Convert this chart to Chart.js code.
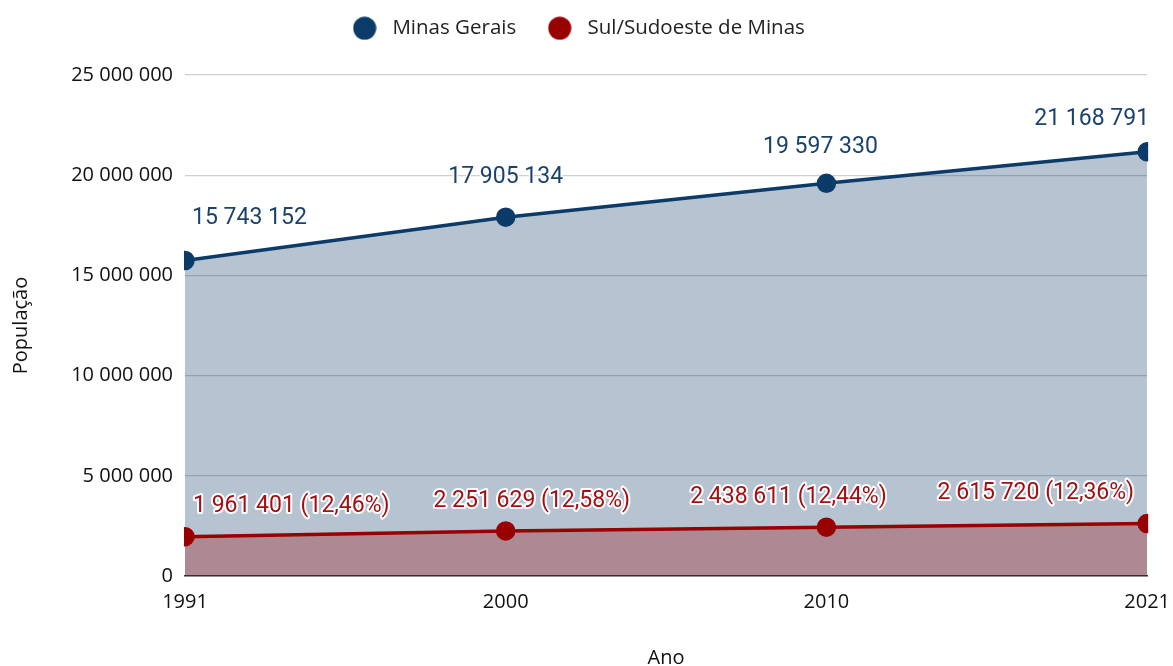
<!DOCTYPE html>
<html>
<head>
<meta charset="utf-8">
<script src="https://cdn.jsdelivr.net/npm/chart.js@4.4.1/dist/chart.umd.min.js"></script>
<style>
  html, body { margin: 0; padding: 0; background: #ffffff; }
  #wrap { width: 1173px; height: 666px; position: relative; }
</style>
</head>
<body>
<div id="wrap"><canvas id="c" width="1173" height="666"></canvas></div>
<script>
// ---- data ----
const years = ['1991', '2000', '2010', '2021'];
const minasGerais = [15743152, 17905134, 19597330, 21168791];
const sulSudoeste = [1961401, 2251629, 2438611, 2615720];
const yTicks = [0, 5000000, 10000000, 15000000, 20000000, 25000000];
const seriesNames = ['Minas Gerais', 'Sul/Sudoeste de Minas'];

// ---- style ----
const BLUE = '#0c3b69';
const RED = '#990000';
const BLUE_TEXT = '#1b426b';
const RED_TEXT = '#a30f12';
const AXIS_FONT = { family: '"Open Sans", sans-serif', size: 20 };

function fmt(n) {
  return String(Math.round(n)).replace(/\B(?=(\d{3})+(?!\d))/g, ' ');
}
function pct(a, b) {
  return (a / b * 100).toFixed(2).replace('.', ',') + '%';
}
function dot(color) {
  const c = document.createElement('canvas');
  c.width = 24; c.height = 24;
  const g = c.getContext('2d');
  g.fillStyle = color;
  g.beginPath();
  g.arc(12, 12, 11.5, 0, Math.PI * 2);
  g.fill();
  return c;
}
const legendDots = [dot(BLUE), dot(RED)];

const labelPlugin = {
  id: 'pointLabels',
  afterDatasetsDraw(chart, args, opts) {
    const ctx = chart.ctx;
    const area = chart.chartArea;
    ctx.save();
    ctx.font = '23px Roboto, sans-serif';
    ctx.textBaseline = 'middle';
    ctx.lineJoin = 'round';
    opts.series.forEach(s => {
      const meta = chart.getDatasetMeta(s.dataset);
      meta.data.forEach((pt, i) => {
        const text = s.text(i);
        const w = ctx.measureText(text).width;
        const cx = pt.x + (s.dx[i] || 0);
        let left = cx - w / 2;
        if (left < area.left + s.padL) left = area.left + s.padL;
        if (left + w > area.right + s.padR) left = area.right + s.padR - w;
        const y = pt.y - s.dy[i];
        ctx.textAlign = 'left';
        ctx.strokeStyle = '#ffffff';
        ctx.lineWidth = s.halo;
        ctx.strokeText(text, left, y);
        ctx.fillStyle = s.color;
        ctx.fillText(text, left, y);
      });
    });
    ctx.restore();
  }
};

const legendSpacer = {
  id: 'legendSpacer',
  beforeInit(chart) {
    const fit = chart.legend.fit;
    chart.legend.fit = function () {
      fit.call(this);
      this.height = 83;
    };
  }
};

new Chart(document.getElementById('c'), {
  type: 'line',
  data: {
    labels: years,
    datasets: [
      {
        label: seriesNames[0],
        data: minasGerais,
        borderColor: BLUE,
        backgroundColor: 'rgba(12,59,105,0.3)',
        pointBackgroundColor: BLUE,
        pointBorderColor: BLUE,
        borderWidth: 3.5,
        pointRadius: 8,
        pointHoverRadius: 8,
        fill: 'origin',
        tension: 0,
        clip: 1,
        order: 1
      },
      {
        label: seriesNames[1],
        data: sulSudoeste,
        borderColor: RED,
        backgroundColor: 'rgba(153,0,0,0.3)',
        pointBackgroundColor: RED,
        pointBorderColor: RED,
        borderWidth: 3.5,
        pointRadius: 8,
        pointHoverRadius: 8,
        fill: 'origin',
        tension: 0,
        clip: 1,
        order: 0
      }
    ]
  },
  options: {
    responsive: false,
    animation: false,
    devicePixelRatio: 1,
    layout: { padding: { top: -8, right: 15, bottom: 0, left: -6 } },
    scales: {
      x: {
        type: 'category',
        offset: false,
        grid: { display: true, color: 'rgba(0,0,0,0)', drawOnChartArea: false, drawTicks: true, tickLength: 11 },
        border: { display: true, color: '#333333', width: 1.5 },
        ticks: { color: '#111111', font: AXIS_FONT, padding: 3, maxRotation: 0, autoSkip: false },
        title: { display: true, text: 'Ano', color: '#111111', font: AXIS_FONT, padding: { top: 0, bottom: -4 } },
        afterFit(scale) { scale.height = 90; }
      },
      y: {
        min: yTicks[0],
        max: yTicks[yTicks.length - 1],
        afterBuildTicks(scale) { scale.ticks = yTicks.map(v => ({ value: v })); },
        grid: { color: '#cfcfcf', lineWidth: 1.2, drawTicks: false },
        border: { display: false },
        ticks: { color: '#111111', font: AXIS_FONT, padding: 12, callback: v => fmt(v) },
        title: { display: true, text: 'População', color: '#111111', font: AXIS_FONT, padding: { top: 15, bottom: 0 } },
        afterFit(scale) { scale.width = 191; }
      }
    },
    plugins: {
      legend: {
        position: 'top',
        align: 'center',
        labels: {
          usePointStyle: true,
          pointStyleWidth: 35,
          boxHeight: 17,
          padding: 26,
          color: '#222222',
          font: { family: '"Open Sans", sans-serif', size: 20.5 },
          sort: (a, b) => a.datasetIndex - b.datasetIndex,
          generateLabels(chart) {
            const items = Chart.defaults.plugins.legend.labels.generateLabels(chart);
            items.forEach(it => { it.pointStyle = legendDots[it.datasetIndex]; });
            return items;
          }
        }
      },
      tooltip: { enabled: false },
      pointLabels: {
        series: [
          { dataset: 0, color: BLUE_TEXT, halo: 3, padL: 7, padR: 2,
            dx: [0, 0, -6, 0], dy: [42, 40, 36, 33],
            text: i => fmt(minasGerais[i]) },
          { dataset: 1, color: RED_TEXT, halo: 4, padL: 8, padR: -13,
            dx: [0, 26, -38, 0], dy: [30, 30, 30, 30],
            text: i => fmt(sulSudoeste[i]) + ' (' + pct(sulSudoeste[i], minasGerais[i]) + ')' }
        ]
      }
    }
  },
  plugins: [labelPlugin, legendSpacer]
});
</script>
</body>
</html>
